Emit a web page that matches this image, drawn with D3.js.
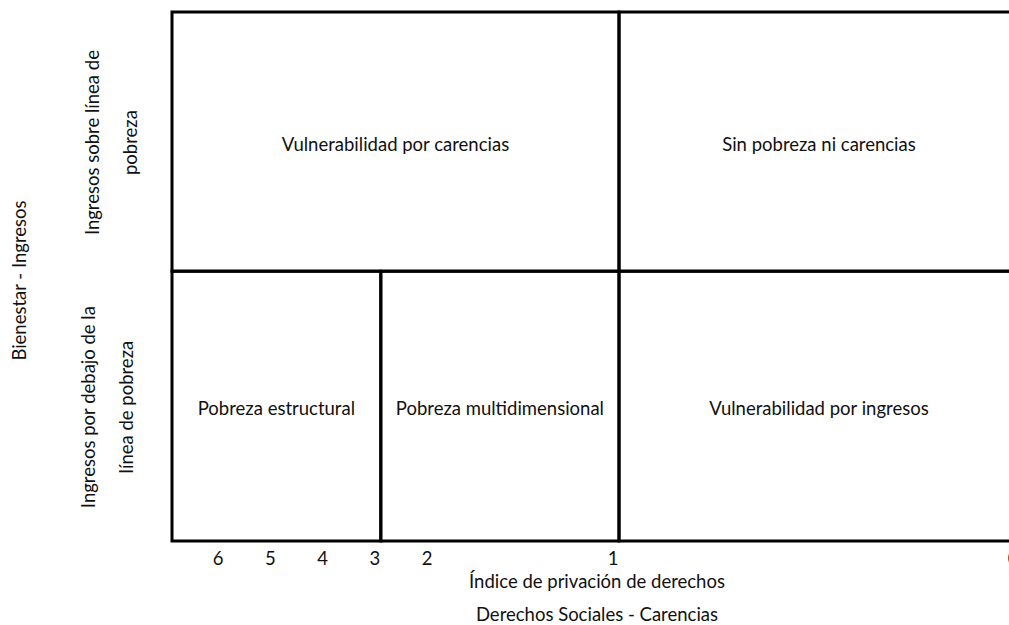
<!DOCTYPE html>
<html><head><meta charset="utf-8">
<script src="https://cdn.jsdelivr.net/npm/d3@7"></script>
<style>body{margin:0;background:#fff}svg{display:block}text{font-family:Lato,"Open Sans",sans-serif;fill:#111}</style>
</head><body><svg id="c" width="1009" height="625"></svg>
<script>
const xTicks = [6, 5, 4, 3, 2, 1, 0];
const xBreaks = [7, 2, 1, 0];
const povertyLine = 51;
const incomeLevels = [["Ingresos sobre línea de", "pobreza"], ["Ingresos por debajo de la", "línea de pobreza"]];
const cellLabels = ["Vulnerabilidad por carencias", "Sin pobreza ni carencias", "Pobreza estructural", "Pobreza multidimensional", "Vulnerabilidad por ingresos"];
const cellX0 = [7, 1, 7, 3, 1];
const cellX1 = [1, 0, 3, 1, 0];
const cellLevel = [0, 0, 1, 1, 1];
const xTitle = ["Índice de privación de derechos", "Derechos Sociales - Carencias"];
const yTitle = "Bienestar - Ingresos";

const FS = "18.5px";
const svg = d3.select("#c");
const x = d3.scaleLinear().domain(xBreaks).range([172, 433, 619, 1019]);
const y = d3.scaleLinear().domain([0, 100]).range([541, 12]);
const bands = [[100, povertyLine], [povertyLine, 0]];

const cells = cellLabels.map((l, i) => ({label: l, x0: cellX0[i], x1: cellX1[i], yTop: bands[cellLevel[i]][0], yBot: bands[cellLevel[i]][1]}));

svg.selectAll("rect.cell").data(cells).join("rect").attr("class", "cell")
  .attr("x", d => x(d.x0)).attr("y", d => y(d.yTop))
  .attr("width", d => x(d.x1) - x(d.x0)).attr("height", d => y(d.yBot) - y(d.yTop))
  .attr("fill", "none").attr("stroke", "#000").attr("stroke-width", 3);

svg.selectAll("text.cell").data(cells).join("text").attr("class", "cell")
  .attr("x", d => (x(d.x0) + x(d.x1)) / 2).attr("y", d => (y(d.yTop) + y(d.yBot)) / 2 + 2)
  .attr("text-anchor", "middle").attr("dominant-baseline", "central")
  .style("font-size", FS).text(d => d.label);

svg.selectAll("text.tick").data(xTicks).join("text").attr("class", "tick")
  .attr("x", d => x(d) - 6).attr("y", 565).attr("text-anchor", "middle")
  .style("font-size", FS).text(d => d);

svg.selectAll("text.xt").data(xTitle).join("text").attr("class", "xt")
  .attr("x", 597).attr("y", (d, i) => 588 + i * 33).attr("text-anchor", "middle")
  .style("font-size", FS).text(d => d);

const lv = svg.selectAll("g.lv").data(incomeLevels).join("g").attr("class", "lv")
  .attr("transform", (d, i) => `translate(${111 - i * 4},${(y(bands[i][0]) + y(bands[i][1])) / 2 + 1}) rotate(-90)`);
lv.selectAll("text").data(d => d).join("text")
  .attr("x", 0).attr("y", (d, i, n) => (i - (n.length - 1) / 2) * 38)
  .attr("text-anchor", "middle").attr("dominant-baseline", "central")
  .style("font-size", FS).text(d => d);

svg.append("text").attr("transform", `translate(19,${(y(100) + y(0)) / 2 + 4}) rotate(-90)`)
  .attr("text-anchor", "middle").attr("dominant-baseline", "central")
  .style("font-size", FS).text(yTitle);
</script></body></html>
